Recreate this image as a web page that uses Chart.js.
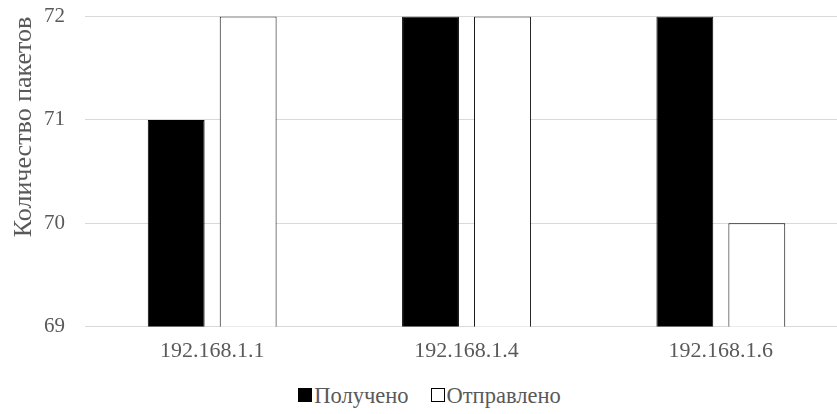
<!DOCTYPE html>
<html>
<head>
<meta charset="utf-8">
<script src="https://cdn.jsdelivr.net/npm/chart.js@4/dist/chart.umd.min.js"></script>
<style>
  html, body { margin: 0; padding: 0; background: #fff; }
  #wrap { width: 837px; height: 414px; position: relative; overflow: hidden; }
  /* a área do gráfico passa um pouco da borda direita, como no original */
  #area { width: 848px; height: 389px; position: absolute; left: 0; top: -16px; }
  #legenda {
    position: absolute; left: 11px; top: 383px; width: 837px;
    text-align: center; font-family: 'Liberation Serif', 'Times New Roman', serif;
    font-size: 22.5px; color: #595959; white-space: nowrap;
  }
  #legenda .item { display: inline-block; margin: 0 11px; }
  #legenda .caixa {
    display: inline-block; width: 12px; height: 12px; border: 1px solid #000;
    margin-right: 2px; vertical-align: 1px;
  }
</style>
</head>
<body>
<div id="wrap">
  <div id="area"><canvas id="grafico"></canvas></div>
  <div id="legenda"></div>
</div>
<script>
// dados do gráfico
const hosts = ['192.168.1.1', '192.168.1.4', '192.168.1.6'];
const recebidos = [71, 72, 72];
const enviados = [72, 72, 70];
const nomesSeries = ['Получено', 'Отправлено'];
const coresSeries = ['#000000', '#ffffff'];
const ticksY = [69, 70, 71, 72];

const corTexto = '#595959';
const fonteSerif = "'Liberation Serif', 'Times New Roman', serif";

const ctx = document.getElementById('grafico').getContext('2d');
const grafico = new Chart(ctx, {
    type: 'bar',
    data: {
        labels: hosts,
        datasets: [
            {
                label: nomesSeries[0],
                data: recebidos,
                backgroundColor: coresSeries[0],
                borderColor: '#000000',
                borderWidth: 1,
                barPercentage: 0.79,
                categoryPercentage: 0.566
            },
            {
                label: nomesSeries[1],
                data: enviados,
                backgroundColor: coresSeries[1],
                borderColor: '#000000',
                borderWidth: 1,
                barPercentage: 0.79,
                categoryPercentage: 0.566
            }
        ]
    },
    options: {
        responsive: true,
        maintainAspectRatio: false,
        animation: false,
        layout: { padding: { top: 4, right: 0, left: 9, bottom: 6 } },
        plugins: {
            tooltip: { enabled: false },
            legend: { display: false }
        },
        scales: {
            x: {
                grid: { display: false },
                border: { display: false },
                ticks: { color: corTexto, font: { family: fonteSerif, size: 22 }, padding: 3 }
            },
            y: {
                min: ticksY[0],
                max: ticksY[ticksY.length - 1],
                afterBuildTicks: (axis) => { axis.ticks = ticksY.map(v => ({ value: v })); },
                afterFit: (axis) => { axis.width = 76; },
                grid: { color: '#d9d9d9', drawTicks: false },
                border: { display: false },
                ticks: { color: corTexto, font: { family: fonteSerif, size: 21 }, padding: 20 },
                title: {
                    display: true,
                    align: 'end',
                    text: 'Количество пакетов',
                    color: corTexto,
                    font: { family: fonteSerif, size: 26 },
                    padding: { top: 0, bottom: 4 }
                }
            }
        }
    }
});

// legenda em HTML (caixa colada ao texto, como no original)
const legenda = document.getElementById('legenda');
grafico.data.datasets.forEach((ds) => {
    const item = document.createElement('span');
    item.className = 'item';
    const caixa = document.createElement('span');
    caixa.className = 'caixa';
    caixa.style.background = ds.backgroundColor;
    item.appendChild(caixa);
    item.appendChild(document.createTextNode(ds.label));
    legenda.appendChild(item);
});
</script>
</body>
</html>
